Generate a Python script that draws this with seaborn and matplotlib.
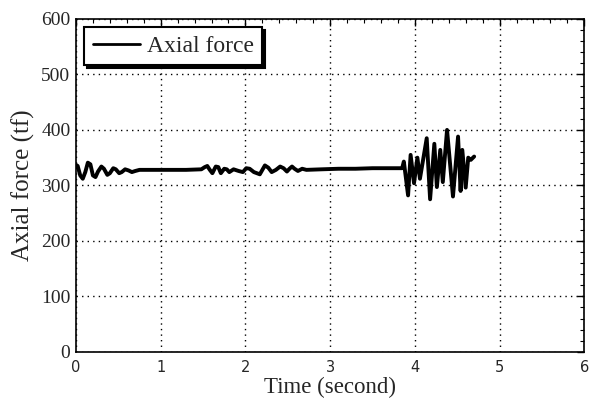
import numpy as np
import pandas as pd
import matplotlib.pyplot as plt
import seaborn as sns
from matplotlib.ticker import MultipleLocator

# time history (second, tf)
time = [0.00, 0.02, 0.05, 0.08, 0.11, 0.14, 0.17, 0.20, 0.23, 0.26, 0.30, 0.33,
        0.37, 0.40, 0.44, 0.47, 0.51, 0.54, 0.58, 0.62, 0.66, 0.70, 0.75, 0.90,
        1.10, 1.30, 1.48, 1.52, 1.55, 1.58, 1.61, 1.65, 1.68, 1.71, 1.75, 1.78,
        1.81, 1.86, 1.92, 1.97, 2.01, 2.05, 2.10, 2.17, 2.20, 2.23, 2.27, 2.31,
        2.36, 2.41, 2.45, 2.49, 2.52, 2.55, 2.58, 2.62, 2.67, 2.72, 2.90, 3.10,
        3.30, 3.50, 3.70, 3.85, 3.87, 3.92, 3.95, 3.99, 4.03, 4.06, 4.14, 4.18,
        4.23, 4.26, 4.30, 4.33, 4.38, 4.45, 4.51, 4.54, 4.56, 4.60, 4.63, 4.66,
        4.70]
force = [337, 335, 318, 312, 324, 341, 338, 318, 315, 325, 334, 330,
         319, 322, 331, 329, 322, 324, 329, 327, 324, 326, 328, 328,
         328, 328, 329, 333, 335, 328, 322, 334, 333, 322, 330, 329,
         324, 329, 326, 324, 331, 330, 324, 320, 328, 336, 332, 324,
         328, 334, 331, 325, 330, 334, 330, 326, 330, 328, 329, 330,
         330, 331, 331, 331, 343, 282, 355, 304, 350, 312, 385, 275,
         375, 297, 364, 306, 400, 280, 388, 290, 364, 296, 350, 346,
         352]

df = pd.DataFrame({"Time": time, "Axial force": force})

sns.set_style("white")
plt.rcParams["font.family"] = ["Liberation Serif", "DejaVu Serif"]

fig, ax = plt.subplots(figsize=(5.89, 4.12), dpi=100)
fig.subplots_adjust(left=0.129, right=0.992, top=0.954, bottom=0.146)

sns.lineplot(data=df, x="Time", y="Axial force", color="black", linewidth=2.8,
             label="Axial force", ax=ax)
ax.lines[0].set_solid_joinstyle("round")

ax.set_xlim(0, 6)
ax.set_ylim(0, 600)
ax.xaxis.set_major_locator(MultipleLocator(1))
ax.xaxis.set_minor_locator(MultipleLocator(0.2))
ax.yaxis.set_major_locator(MultipleLocator(100))
ax.yaxis.set_minor_locator(MultipleLocator(20))
ax.tick_params(which="both", direction="in", top=True, right=True, color="black")
ax.tick_params(which="major", length=5, width=1)
ax.tick_params(which="minor", length=3, width=0.8)
ax.tick_params(axis="y", labelsize=14, pad=4)
ax.tick_params(axis="x", pad=6)
for lab in ax.get_xticklabels():
    lab.set_family("DejaVu Sans")
    lab.set_fontsize(10.5)

ax.grid(True, which="major", color="black", linestyle=(0, (1, 3)), linewidth=1)
for s in ax.spines.values():
    s.set_color("black")
    s.set_linewidth(1.2)

ax.set_xlabel("Time (second)", fontsize=16.5, labelpad=1)
ax.set_ylabel("Axial force (tf)", fontsize=18, labelpad=4)

leg = ax.legend(loc="upper left", fontsize=17, frameon=True, fancybox=False,
                shadow={"color": "black", "alpha": 1}, handlelength=2.0,
                handletextpad=0.3, borderaxespad=0.35, borderpad=0.35)
leg.get_frame().set_edgecolor("black")
leg.get_frame().set_linewidth(1.5)
leg.get_frame().set_alpha(1)
for h in leg.get_lines():
    h.set_linewidth(2.0)

fig.savefig("out.png", dpi=100)
